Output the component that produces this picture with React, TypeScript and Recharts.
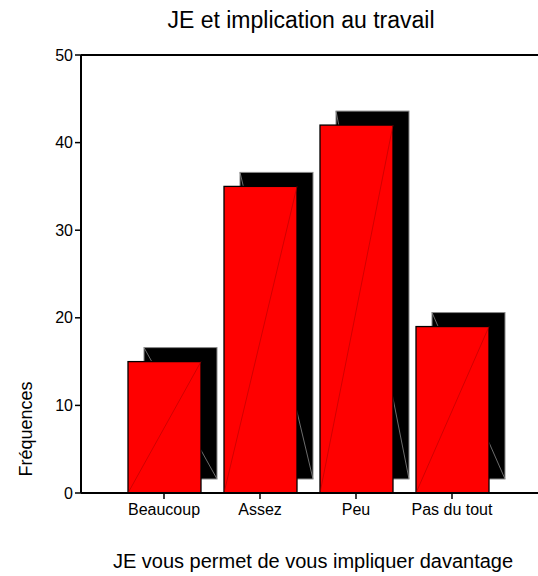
import React from "react";
import { BarChart, Bar, XAxis, YAxis, ReferenceLine } from "recharts";

const categories = ["Beaucoup", "Assez", "Peu", "Pas du tout"];
const frequences = [15, 35, 42, 19];
const yTicks = [0, 10, 20, 30, 40, 50];

const data = categories.map((c, i) => ({ name: c, value: frequences[i] }));

const font = "'Liberation Sans', Arial, sans-serif";

const Bar3D = (props: any) => {
  const { x, y, width, height } = props;
  const dx = 16;
  const dy = 14;
  return (
    <g>
      <rect x={x + dx} y={y - dy} width={width} height={height} fill="#000" stroke="#888" strokeWidth={1} />
      <line x1={x + dx} y1={y - dy} x2={x + dx + width} y2={y - dy + height} stroke="#888" strokeWidth={0.8} />
      <rect x={x} y={y} width={width} height={height} fill="#ff0000" stroke="#000" strokeWidth={1.3} />
      <line x1={x} y1={y + height} x2={x + width} y2={y} stroke="#b00000" strokeWidth={0.6} />
    </g>
  );
};

export default function App() {
  return (
    <div style={{ position: "absolute", left: 0, top: 0, width: 538, height: 576, fontFamily: font, background: "#fff" }}>
      <BarChart width={538} height={576} data={data} margin={{ top: 55, right: 0, bottom: 53, left: 0 }}>
        <ReferenceLine y={50} stroke="#000" strokeWidth={2} />
        <XAxis
          dataKey="name"
          height={30}
          padding={{ left: 35, right: 38 }}
          axisLine={{ stroke: "#000", strokeWidth: 2 }}
          tickLine={{ stroke: "#000", strokeWidth: 1.5 }}
          tickMargin={5}
          tick={{ fill: "#000", fontSize: 16, fontFamily: font }}
        />
        <YAxis
          width={81}
          domain={[0, 50]}
          ticks={yTicks}
          axisLine={{ stroke: "#000", strokeWidth: 2 }}
          tickLine={{ stroke: "#000", strokeWidth: 1.5 }}
          tick={{ fill: "#000", fontSize: 16, fontFamily: font }}
        />
        <Bar dataKey="value" barSize={73} shape={Bar3D} isAnimationActive={false} />
      </BarChart>
      <div style={{ position: "absolute", left: 0, width: 602, top: 7, textAlign: "center", fontSize: 23, color: "#000" }}>
        JE et implication au travail
      </div>
      <div
        style={{
          position: "absolute",
          left: 26,
          top: 429,
          transform: "translate(-50%, -50%) rotate(-90deg)",
          fontSize: 18,
          whiteSpace: "nowrap",
          color: "#000",
        }}
      >
        Fréquences
      </div>
      <div style={{ position: "absolute", left: 0, width: 626, top: 550, textAlign: "center", fontSize: 20, color: "#000" }}>
        JE vous permet de vous impliquer davantage
      </div>
    </div>
  );
}
